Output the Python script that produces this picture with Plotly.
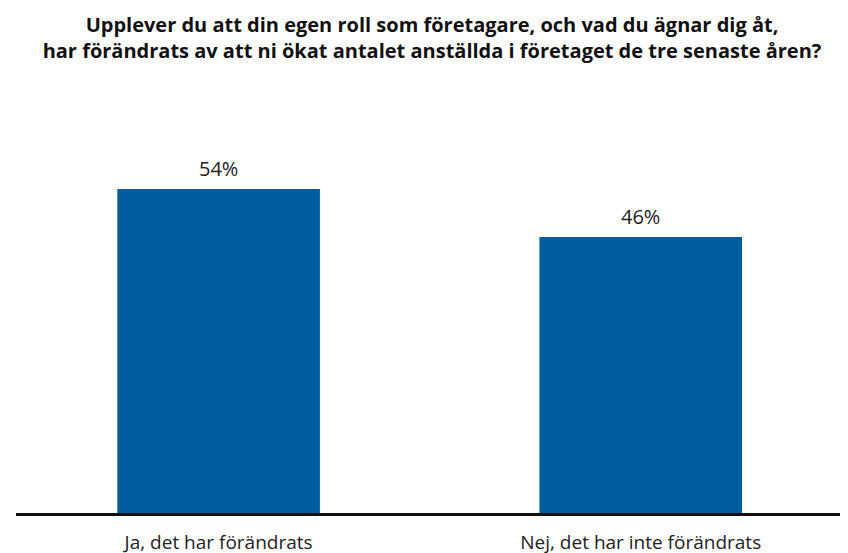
import plotly.graph_objects as go

# Data
answers = ["Ja, det har förändrats", "Nej, det har inte förändrats"]
shares = [54, 46]
labels = ["54%", "46%"]

fig = go.Figure()

fig.add_trace(go.Bar(
    x=answers,
    y=shares,
    marker_color='#005C9E',
    marker_line_width=0,
    width=0.48,
    hoverinfo='skip'
))

# value labels above bars
for a, s, t in zip(answers, shares, labels):
    fig.add_annotation(x=a, y=s, text=t, showarrow=False,
                       yanchor='bottom', yshift=5,
                       font=dict(size=20, color='#222222'))

fig.update_layout(
    title=dict(
        text='<b>Upplever du att din egen roll som företagare, och vad du ägnar dig åt,<br>'
             'har förändrats av att ni ökat antalet anställda i företaget de tre senaste åren?</b>',
        x=0.5, xanchor='center', y=0.956, yanchor='middle',
        font=dict(size=20, color='#111111')
    ),
    font=dict(family='Open Sans, Noto Sans, sans-serif', color='#222222'),
    width=848, height=553,
    margin=dict(l=8, r=0, t=145, b=48),
    plot_bgcolor='white', paper_bgcolor='white',
    showlegend=False,
    xaxis=dict(range=[-0.48, 1.51], showgrid=False, showline=True,
               linecolor='#111111', linewidth=2.5, ticks='',
               ticklabelstandoff=10,
               tickfont=dict(size=19, color='#222222')),
    yaxis=dict(range=[0, 60], visible=False, showgrid=False, zeroline=False),
)

fig.write_html("out.html")
